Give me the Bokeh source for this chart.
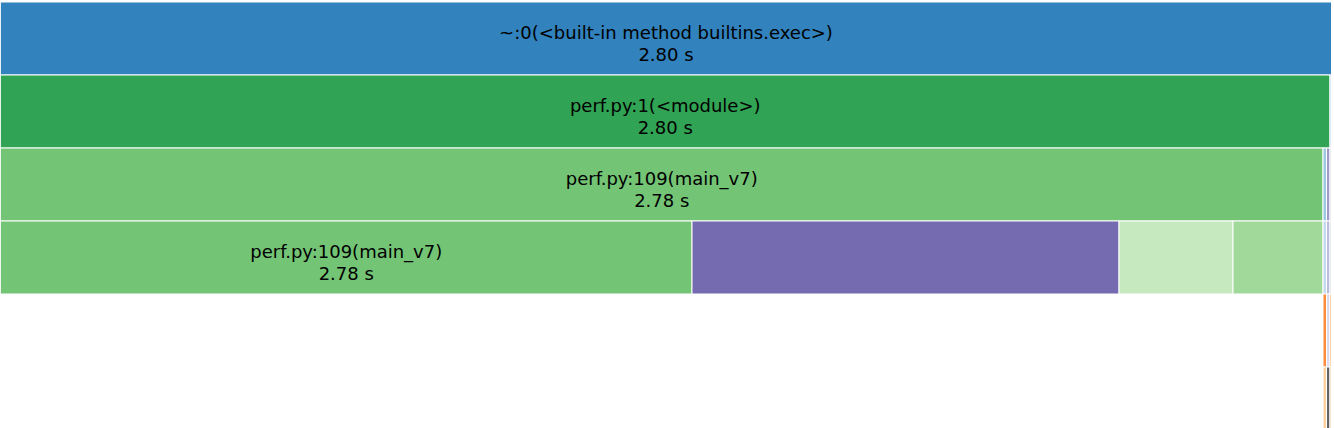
from bokeh.plotting import figure
from bokeh.models import ColumnDataSource, Range1d
from bokeh.core.properties import value
from bokeh.embed import file_html
from bokeh.resources import INLINE

# Icicle nodes (snakeviz-style profile), in seconds of width
names = ["~:0(<built-in method builtins.exec>)", "perf.py:1(<module>)", "",
         "perf.py:109(main_v7)", "", "", "",
         "perf.py:109(main_v7)", "", "", "", "", "", "",
         "", "", "", "", "", ""]
time_labels = ["2.80 s", "2.80 s", "", "2.78 s", "", "", "",
               "2.78 s", "", "", "", "", "", "", "", "", "", "", "", ""]
parents = [-1, 0, 0, 1, 1, 1, 2, 3, 3, 3, 3, 4, 5, 6, 11, 12, 13, 14, 15, 16]
levels = [0, 1, 1, 2, 2, 2, 2, 3, 3, 3, 3, 3, 3, 3, 4, 4, 4, 5, 5, 5]
widths = [2.8000, 2.7968, 0.0032, 2.7821, 0.0074, 0.0073, 0.0032,
          1.4547, 0.8983, 0.2398, 0.1893, 0.0074, 0.0073, 0.0032,
          0.0074, 0.0073, 0.0032, 0.0074, 0.0073, 0.0032]
colors = ["#3182bd", "#31a354", "#c6dbef", "#74c476", "#9ecae1", "#9e9ac8", "#dadaeb",
          "#74c476", "#756bb1", "#c7e9c0", "#a1d99b", "#c6dbef", "#bcbddc", "#dadaeb",
          "#fd8d3c", "#dadaeb", "#fdae6b", "#fdd0a2", "#636363", "#fdd0a2"]

# compute left positions from hierarchy
lefts = [0.0] * len(widths)
used = {}
for i, par in enumerate(parents):
    if par < 0:
        lefts[i] = 0.0
    else:
        lefts[i] = lefts[par] + used.get(par, 0.0)
        used[par] = used.get(par, 0.0) + widths[i]
rights = [l + w for l, w in zip(lefts, widths)]
tops = [float(lv) for lv in levels]
bottoms = [lv + 1.0 for lv in levels]
centers_x = [(l + r) / 2 for l, r in zip(lefts, rights)]
centers_y = [lv + 0.5 for lv in levels]

src = ColumnDataSource(dict(left=lefts, right=rights, top=tops, bottom=bottoms,
                            color=colors, cx=centers_x, cy=centers_y,
                            name=names, tl=time_labels))

W, H = 1334, 428
total_px = 1331.0
x_max = widths[0] * 1334.0 / total_px
row_px = 73.0
y_top = -1.5 / row_px
y_bot = (428.0 - 1.5) / row_px

p = figure(width=W, height=H, output_backend="svg", toolbar_location=None,
           x_range=Range1d(0, x_max), y_range=Range1d(y_bot, y_top),
           min_border=0, outline_line_color=None)
p.axis.visible = False
p.grid.visible = False
p.background_fill_color = "white"

p.quad(left="left", right="right", top="top", bottom="bottom", source=src,
       fill_color="color", line_color="white", line_width=1)

p.text(x="cx", y="cy", text="name", source=src, text_align="center",
       text_baseline="alphabetic", y_offset=-6, text_font=value("DejaVu Sans"),
       text_font_size="18px", text_color="black")
p.text(x="cx", y="cy", text="tl", source=src, text_align="center",
       text_baseline="alphabetic", y_offset=16, text_font=value("DejaVu Sans"),
       text_font_size="18px", text_color="black")

open("out.html", "w").write(file_html(p, INLINE))
